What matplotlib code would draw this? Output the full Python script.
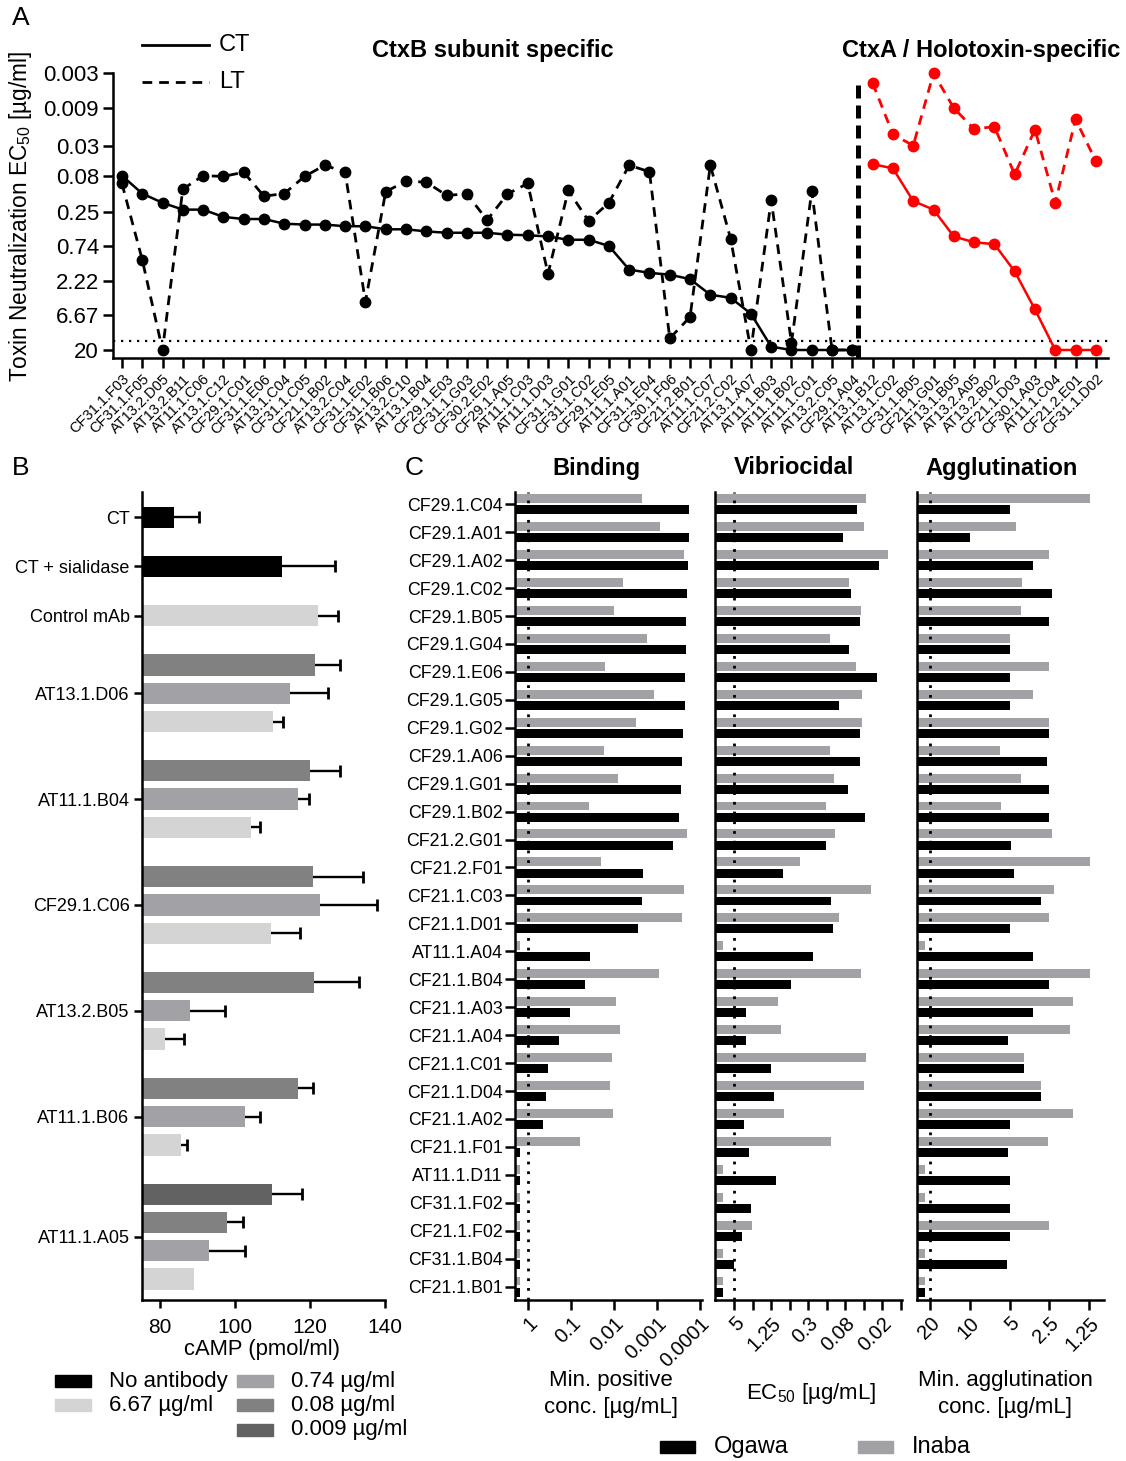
import numpy as np
import matplotlib
matplotlib.use("Agg")
import matplotlib.pyplot as plt
from matplotlib.lines import Line2D
from matplotlib.patches import Rectangle
from matplotlib.ticker import LogLocator, NullLocator, NullFormatter

plt.rcParams['font.family'] = ['Liberation Sans', 'DejaVu Sans']
plt.rcParams['mathtext.fontset'] = 'custom'
plt.rcParams['mathtext.rm'] = 'Liberation Sans'
plt.rcParams['mathtext.it'] = 'Liberation Sans:italic'
plt.rcParams['mathtext.bf'] = 'Liberation Sans:bold'

# ======================= DATA =======================
# Panel A: toxin neutralization EC50 (ug/ml)
a_clones = ['CF31.1.F03', 'CF31.1.F05', 'AT13.2.D05', 'AT13.2.B11', 'AT11.1.C06', 'AT13.1.C12',
            'CF29.1.C01', 'CF31.1.E06', 'AT13.1.C04', 'CF31.1.C05', 'CF21.1.B02', 'AT13.2.C04',
            'CF31.1.E02', 'CF31.1.B06', 'AT13.2.C10', 'AT13.1.B04', 'CF29.1.E03', 'CF31.1.G03',
            'CF30.2.E02', 'CF29.1.A05', 'AT11.1.C03', 'AT11.1.D03', 'CF31.1.G01', 'CF31.1.C02',
            'CF29.1.E05', 'AT11.1.A01', 'CF31.1.E04', 'CF30.1.F06', 'CF21.2.B01', 'AT11.1.C07',
            'CF21.2.C02', 'AT13.1.A07', 'AT11.1.B03', 'AT11.1.B02', 'AT11.1.C01', 'AT13.2.C05',
            'CF29.1.A04', 'AT13.1.B12', 'AT13.1.C02', 'CF31.1.B05', 'CF21.1.G01', 'AT13.1.B05',
            'AT13.2.A05', 'AT13.2.B02', 'CF21.1.D03', 'CF30.1.A03', 'AT11.1.C04', 'CF21.2.E01',
            'CF31.1.D02']
a_n_ctxb = 37  # first 37 clones are CtxB subunit specific, rest CtxA / holotoxin
a_ct_ec50 = [0.078, 0.138, 0.185, 0.23, 0.23, 0.29, 0.31, 0.31, 0.36, 0.37, 0.37, 0.39, 0.39,
             0.43, 0.43, 0.46, 0.48, 0.48, 0.48, 0.51, 0.52, 0.54, 0.6, 0.6, 0.73, 1.55, 1.72,
             1.82, 2.1, 3.45, 3.8, 6.3, 18, 20, 20, 20, 20,
             0.054, 0.062, 0.175, 0.23, 0.54, 0.65, 0.69, 1.64, 5.5, 20, 20, 20]
a_lt_ec50 = [0.10, 1.13, 20, 0.12, 0.078, 0.08, 0.07, 0.15, 0.138, 0.08, 0.056, 0.07, 4.3,
             0.13, 0.093, 0.096, 0.146, 0.14, 0.32, 0.14, 0.10, 1.77, 0.125, 0.33, 0.185, 0.056,
             0.069, 13.8, 7.0, 0.056, 0.58, 20, 0.17, 15.9, 0.127, 20, 20,
             0.0041, 0.021, 0.030, 0.003, 0.0091, 0.0177, 0.0164, 0.075, 0.018, 0.185, 0.013, 0.049]
a_cutoff = 15
a_yticks = [20, 6.67, 2.22, 0.74, 0.25, 0.08, 0.03, 0.009, 0.003]
a_yticklabels = ['20', '6.67', '2.22', '0.74', '0.25', '0.08', '0.03', '0.009', '0.003']

# Panel B: cAMP (pmol/ml)
b_groups = ['CT', 'CT + sialidase', 'Control mAb', 'AT13.1.D06', 'AT11.1.B04',
            'CF29.1.C06', 'AT13.2.B05', 'AT11.1.B06', 'AT11.1.A05']
b_doses = [['none'], ['none'], ['6.67'],
           ['0.08', '0.74', '6.67'], ['0.08', '0.74', '6.67'], ['0.08', '0.74', '6.67'],
           ['0.08', '0.74', '6.67'], ['0.08', '0.74', '6.67'], ['0.009', '0.08', '0.74', '6.67']]
b_values = [[83.6], [112.4], [122.0],
            [121.3, 114.7, 110.2], [119.9, 116.8, 104.3], [120.7, 122.6, 109.5],
            [121.1, 88.0, 81.3], [116.9, 102.6, 85.5], [109.8, 97.9, 93.0, 89.1]]
b_errors = [[6.9], [14.2], [5.4],
            [6.8, 10.0, 2.7], [8.0, 3.0, 2.3], [13.5, 15.2, 7.8],
            [12.1, 9.4, 5.2], [3.9, 4.0, 1.7], [8.0, 4.2, 9.6, 0.0]]
b_xticks = [80, 100, 120, 140]
b_dose_labels = {'none': 'No antibody', '6.67': '6.67 \u00b5g/ml', '0.74': '0.74 \u00b5g/ml',
                 '0.08': '0.08 \u00b5g/ml', '0.009': '0.009 \u00b5g/ml'}

# Panel C
c_clones = ['CF29.1.C04', 'CF29.1.A01', 'CF29.1.A02', 'CF29.1.C02', 'CF29.1.B05', 'CF29.1.G04',
            'CF29.1.E06', 'CF29.1.G05', 'CF29.1.G02', 'CF29.1.A06', 'CF29.1.G01', 'CF29.1.B02',
            'CF21.2.G01', 'CF21.2.F01', 'CF21.1.C03', 'CF21.1.D01', 'AT11.1.A04', 'CF21.1.B04',
            'CF21.1.A03', 'CF21.1.A04', 'CF21.1.C01', 'CF21.1.D04', 'CF21.1.A02', 'CF21.1.F01',
            'AT11.1.D11', 'CF31.1.F02', 'CF21.1.F02', 'CF31.1.B04', 'CF21.1.B01']
binding_inaba = [0.00215, 0.00083, 0.000236, 0.0062, 0.0097, 0.0017, 0.016, 0.00114, 0.003,
                 0.0165, 0.0078, 0.037, 0.0002, 0.020, 0.00023, 0.00026, 1.5, 0.0009, 0.0089,
                 0.0071, 0.011, 0.0124, 0.0105, 0.062, 1.5, 1.5, 1.5, 1.5, 1.5]
binding_ogawa = [0.000174, 0.000178, 0.00019, 0.0002, 0.000213, 0.000213, 0.000215, 0.000224,
                 0.00024, 0.00026, 0.00027, 0.0003, 0.00041, 0.00205, 0.0022, 0.0028, 0.036,
                 0.046, 0.104, 0.19, 0.35, 0.375, 0.45, 1.5, 1.5, 1.5, 1.5, 1.5, 1.5]
vibrio_inaba = [0.035, 0.039, 0.0157, 0.068, 0.043, 0.139, 0.051, 0.041, 0.042, 0.137,
                0.117, 0.157, 0.114, 0.43, 0.029, 0.099, 7.6, 0.0435, 0.97, 0.87,
                0.035, 0.039, 0.76, 0.134, 7.6, 7.6, 2.54, 7.6, 7.6]
vibrio_ogawa = [0.049, 0.084, 0.0215, 0.062, 0.045, 0.067, 0.0237, 0.0965, 0.045, 0.045,
                0.069, 0.037, 0.16, 0.81, 0.134, 0.123, 0.256, 0.59, 3.2, 3.2,
                1.25, 1.1, 3.5, 2.84, 1.04, 2.6, 3.75, 5.0, 7.6]
aggl_inaba = [1.23, 4.5, 2.5, 4.0, 4.1, 5, 2.5, 3.3, 2.5, 5.9, 4.1, 5.8, 2.4, 1.23, 2.3, 2.5,
              21.8, 1.23, 1.65, 1.75, 3.9, 2.87, 1.65, 2.57, 21.8, 21.8, 2.5, 21.8, 21.8]
aggl_ogawa = [5, 10, 3.3, 2.4, 2.5, 5, 5, 5, 2.5, 2.6, 2.5, 2.5, 4.9, 4.6, 2.87, 5, 3.3, 2.5,
              3.3, 5.1, 3.9, 2.87, 5, 5.1, 5, 5, 5, 5.25, 21.8]
binding_ticks = [1, 0.1, 0.01, 0.001, 0.0001]
binding_ticklabels = ['1', '0.1', '0.01', '0.001', '0.0001']
vibrio_ticks = [5, 2.5, 1.25, 0.625, 0.3125, 0.156, 0.078, 0.039, 0.0195, 0.00977]
vibrio_ticklabels = ['5', '', '1.25', '', '0.3', '', '0.08', '', '0.02', '']
aggl_ticks = [20, 10, 5, 2.5, 1.25]
aggl_ticklabels = ['20', '10', '5', '2.5', '1.25']
c_cutoffs = [1, 5, 20]

# ======================= STYLE =======================
GRAY_INABA = '#a2a2a6'
dose_colors = {'none': 'black', '6.67': '#d4d4d4', '0.74': '#a2a2a6',
               '0.08': '#818181', '0.009': '#626262'}
RED = '#ff0000'
SP = 1.8
DASH = (0, (3.5, 2.5))

fig = plt.figure(figsize=(11.26, 14.61), dpi=100)
W, H = 1126.0, 1461.0


def fx(p):
    return p / W


def fy(p):
    return 1.0 - p / H


def rect(l, t, r, b):
    return [fx(l), fy(b), fx(r) - fx(l), fy(t) - fy(b)]


def style(ax):
    for s in ('top', 'right'):
        ax.spines[s].set_visible(False)
    for s in ('left', 'bottom'):
        ax.spines[s].set_linewidth(SP)
    ax.tick_params(which='major', direction='out', width=SP, length=6, color='k')
    ax.tick_params(which='minor', direction='out', width=1.2, length=3, color='k')


# ======================= PANEL A =======================
axA = fig.add_axes(rect(113, 73, 1108, 358))
style(axA)
axA.set_yscale('log')
xa = np.arange(len(a_clones))
nb = a_n_ctxb
ct = np.array(a_ct_ec50)
lt = np.array(a_lt_ec50)
axA.plot(xa[:nb], ct[:nb], color='k', lw=1.8, marker='o', ms=7.5, clip_on=False, zorder=4)
axA.plot(xa[:nb], lt[:nb], color='k', lw=2.0, ls=DASH, marker='o', ms=7.5, clip_on=False, zorder=4)
axA.plot(xa[nb:], ct[nb:], color=RED, lw=1.8, marker='o', ms=7.5, clip_on=False, zorder=4)
axA.plot(xa[nb:], lt[nb:], color=RED, lw=2.0, ls=DASH, marker='o', ms=7.5, clip_on=False, zorder=4)
axA.axhline(a_cutoff, color='k', lw=1.6, ls=(0, (1, 2.6)), zorder=2)
axA.axvline(nb - 0.7, ymin=0, ymax=0.962, color='k', lw=3.6, ls=(0, (2.6, 1.4)), zorder=3)
axA.set_xlim(-0.44, len(a_clones) - 0.4)
axA.set_ylim(25.8, 0.00298)
axA.yaxis.set_minor_locator(NullLocator())
axA.yaxis.set_minor_formatter(NullFormatter())
axA.set_yticks(a_yticks)
axA.set_yticklabels(a_yticklabels, fontsize=16)
axA.set_xticks(xa)
axA.set_xticklabels(a_clones, rotation=45, ha='right', rotation_mode='anchor', fontsize=10.5)
axA.tick_params(axis='x', length=7, pad=3)
axA.tick_params(axis='y', length=7, pad=3)

fig.text(fx(21), fy(216), 'Toxin Neutralization EC$_{50}$ [\u00b5g/ml]', rotation=90,
         ha='center', va='center', fontsize=16.3)
fig.text(fx(493), fy(50), 'CtxB subunit specific', ha='center', va='center',
         fontsize=17, fontweight='bold')
fig.text(fx(981), fy(50), 'CtxA / Holotoxin-specific', ha='center', va='center',
         fontsize=17, fontweight='bold')
fig.text(fx(21), fy(18), 'A', ha='center', va='center', fontsize=19)
# legend of panel A
fig.add_artist(Line2D([fx(142), fx(209)], [fy(45), fy(45)], color='k', lw=2.0,
                      transform=fig.transFigure))
fig.add_artist(Line2D([fx(142), fx(209)], [fy(82), fy(82)], color='k', lw=2.0, ls=DASH,
                      transform=fig.transFigure))
fig.text(fx(219), fy(45), 'CT', ha='left', va='center', fontsize=17)
fig.text(fx(219), fy(82), 'LT', ha='left', va='center', fontsize=17)

# ======================= PANEL B =======================
axB = fig.add_axes(rect(142, 491.7, 385, 1300))
style(axB)
gap = 1.74
start = 0.0
centers = []
for vals, errs, doses in zip(b_values, b_errors, b_doses):
    pos = start + np.arange(len(vals))
    cols = [dose_colors[d] for d in doses]
    axB.barh(pos, vals, height=0.75, color=cols, zorder=2)
    v = np.array(vals)
    e = np.array(errs)
    has = e > 0
    axB.hlines(pos[has], v[has], v[has] + e[has], color='k', lw=1.7, zorder=3)
    axB.plot(v[has] + e[has], pos[has], ls='none', marker='|', ms=8, mew=2.0, color='k', zorder=3)
    centers.append(pos.mean())
    start = pos[-1] + gap
axB.set_xlim(75.2, 140)
axB.set_ylim(27.66, -0.9)
axB.set_yticks(centers)
axB.set_yticklabels(b_groups, fontsize=13)
axB.set_xticks(b_xticks)
axB.set_xticklabels([str(t) for t in b_xticks], fontsize=15)
axB.tick_params(axis='y', length=6, pad=3)
axB.tick_params(axis='x', length=6, pad=7)
fig.text(fx(262), fy(1350), 'cAMP (pmol/ml)', ha='center', va='center', fontsize=15.8)
fig.text(fx(21), fy(468), 'B', ha='center', va='center', fontsize=19)

# legend B (manual layout: two columns)
leg_b = [('none', 55, 1381), ('6.67', 55, 1405), ('0.74', 237, 1381),
         ('0.08', 237, 1405), ('0.009', 237, 1430)]
for key, px, py in leg_b:
    fig.add_artist(Rectangle((fx(px), fy(py + 6)), fx(36), 12 / H, color=dose_colors[key],
                             transform=fig.transFigure))
    fig.text(fx(px + 54), fy(py), b_dose_labels[key], ha='left', va='center', fontsize=16)

# ======================= PANEL C =======================
top, bot = 491.7, 1300
yc = np.arange(len(c_clones))
panels = [
    ('Binding', 515, 701.7, (2.0, 8.98e-5), binding_inaba, binding_ogawa, binding_ticks,
     binding_ticklabels, c_cutoffs[0], 596, 'Min. positive\nconc. [\u00b5g/mL]', 611),
    ('Vibriocidal', 715, 901.7, (10.2, 0.00935), vibrio_inaba, vibrio_ogawa, vibrio_ticks,
     vibrio_ticklabels, c_cutoffs[1], 794, 'EC$_{50}$ [\u00b5g/mL]', 811),
    ('Agglutination', 917.3, 1104, (24.9, 0.967), aggl_inaba, aggl_ogawa, aggl_ticks,
     aggl_ticklabels, c_cutoffs[2], 1002, 'Min. agglutination\nconc. [\u00b5g/mL]', 1005),
]
for i, (title, l, r, xl, inaba, ogawa, ticks, tlabels, cut, tx, xlab, lx) in enumerate(panels):
    ax = fig.add_axes(rect(l, top, r, bot))
    style(ax)
    ax.set_xscale('log')
    base = xl[0]
    ax.barh(yc - 0.2, np.array(inaba) - base, left=base, height=0.32, color=GRAY_INABA, zorder=2)
    ax.barh(yc + 0.2, np.array(ogawa) - base, left=base, height=0.32, color='k', zorder=2)
    ax.axvline(cut, color='k', lw=2.0, ls=(0, (1, 2.5)), zorder=4)
    ax.set_xlim(*xl)
    ax.set_ylim(len(c_clones) - 0.52, -0.45)
    if i == 0:
        ax.set_yticks(yc)
        ax.set_yticklabels(c_clones, fontsize=12.8)
        ax.tick_params(axis='y', length=7, pad=2)
        ax.xaxis.set_minor_locator(LogLocator(base=10, subs=np.arange(2, 10)))
        ax.xaxis.set_minor_formatter(NullFormatter())
    else:
        ax.set_yticks([])
        ax.xaxis.set_minor_locator(NullLocator())
        ax.xaxis.set_minor_formatter(NullFormatter())
    ax.set_xticks(ticks)
    ax.set_xticklabels(tlabels, rotation=45, ha='right', rotation_mode='anchor', fontsize=14.5)
    ax.tick_params(axis='x', which='major', length=7, pad=3)
    fig.text(fx(tx), fy(468), title, ha='center', va='center', fontsize=17, fontweight='bold')
    fig.text(fx(lx), fy(1394), xlab, ha='center', va='center', fontsize=16, linespacing=1.4)

fig.text(fx(414), fy(468), 'C', ha='center', va='center', fontsize=19)

# legend C
for label, col, px in [('Ogawa', 'k', 660), ('Inaba', GRAY_INABA, 858)]:
    fig.add_artist(Rectangle((fx(px), fy(1453)), fx(35), 12 / H, color=col,
                             transform=fig.transFigure))
    fig.text(fx(px + 54), fy(1447), label, ha='left', va='center', fontsize=17)

fig.savefig('out.png', dpi=100)
